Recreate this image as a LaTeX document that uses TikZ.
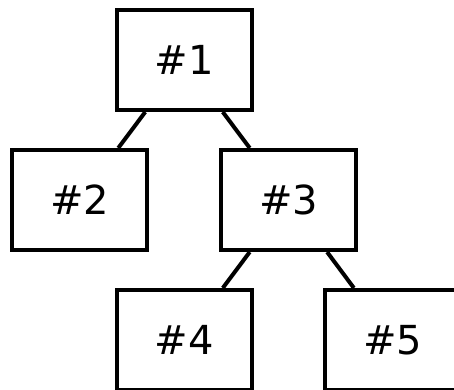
\documentclass[tikz,border=0pt]{standalone}
\usepackage{fontspec}
\setmainfont{DejaVu Sans}
\begin{document}
\begin{tikzpicture}[x=1pt,y=-1pt,
  treebox/.style={draw=black, rectangle, line width=4pt, fill=white,
    minimum width=135pt, minimum height=100pt, inner sep=0pt,
    font=\fontsize{40}{42}\selectfont},
  treeedge/.style={draw=black, line width=4pt}]
  \useasboundingbox (0,0) rectangle (454,389);
  \clip (0,0) rectangle (454,389);
  % tree nodes
  \node[treebox] (n1) at (184,60)    {\#1};
  \node[treebox] (n2) at (79.5,200)  {\#2};
  \node[treebox] (n3) at (288.5,200) {\#3};
  \node[treebox] (n4) at (184,340)   {\#4};
  \node[treebox] (n5) at (392.5,340) {\#5};
  % parent-child links
  \draw[treeedge] (n1) -- (n2);
  \draw[treeedge] (n1) -- (n3);
  \draw[treeedge] (n3) -- (n4);
  \draw[treeedge] (n3) -- (n5);
\end{tikzpicture}
\end{document}
